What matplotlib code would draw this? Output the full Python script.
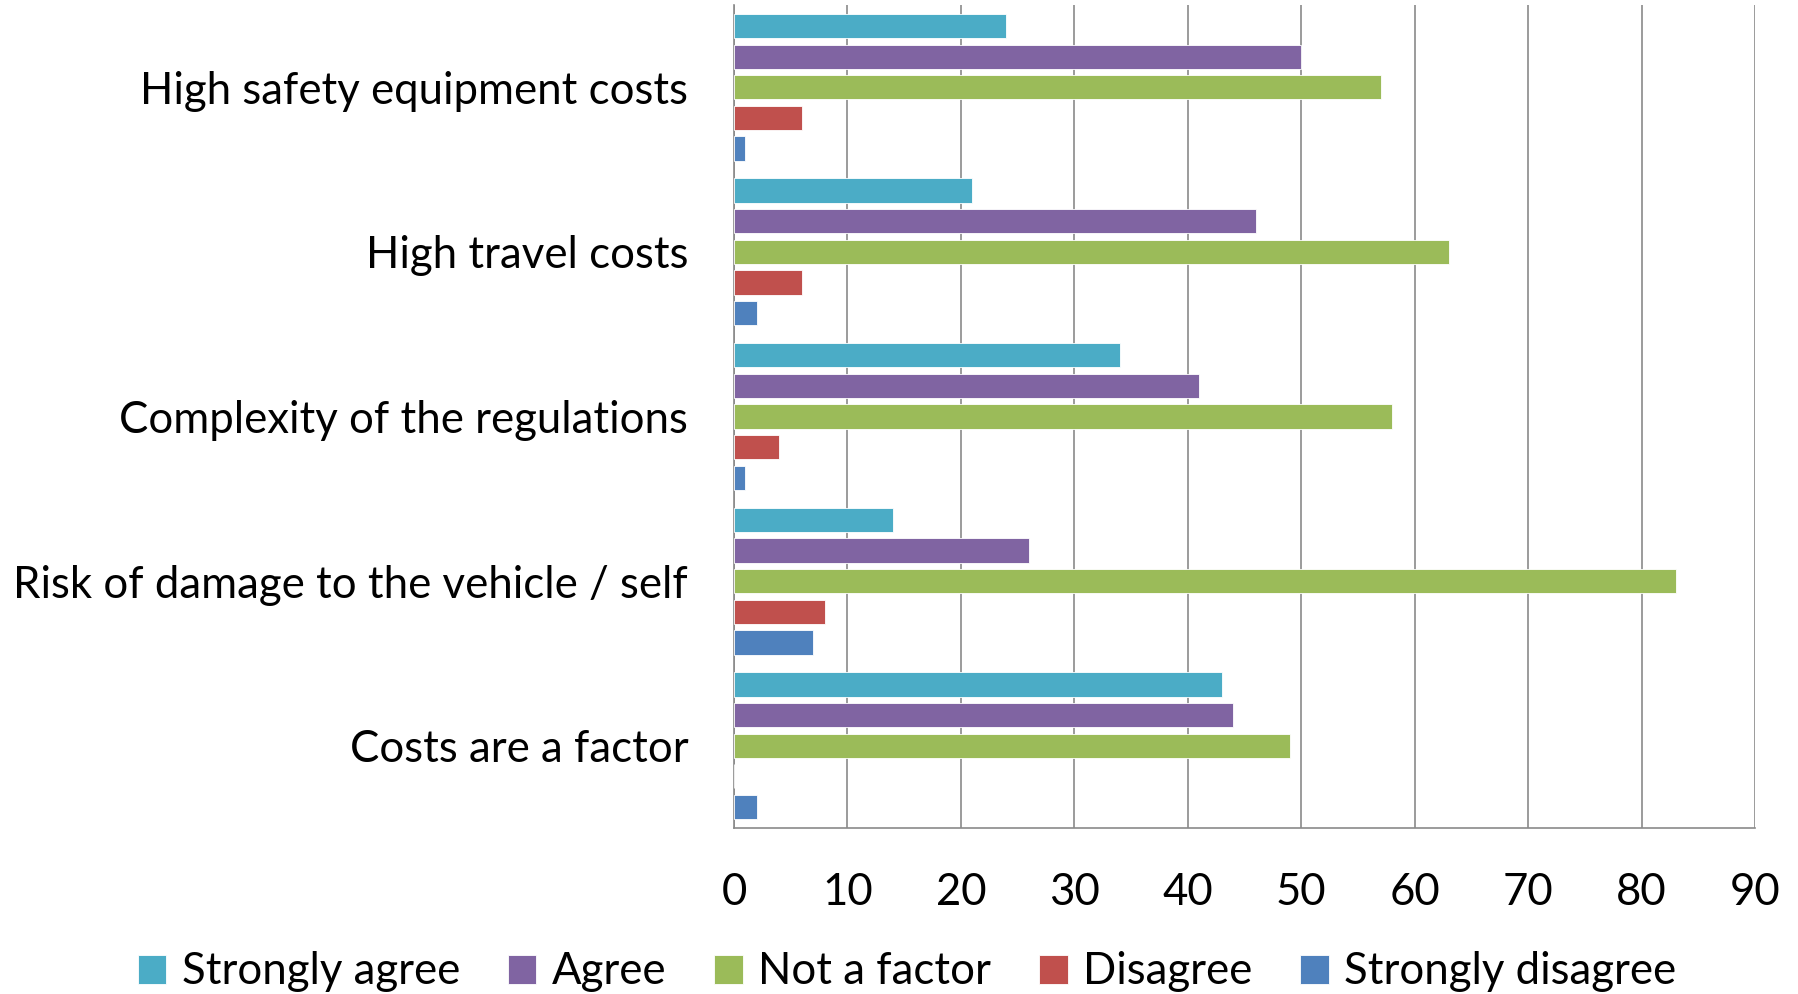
import numpy as np
import matplotlib
matplotlib.use("Agg")
import matplotlib.pyplot as plt

# --- data ---
categories = [
    "High safety equipment costs",
    "High travel costs",
    "Complexity of the regulations",
    "Risk of damage to the vehicle / self",
    "Costs are a factor",
]
series_names = ["Strongly agree", "Agree", "Not a factor", "Disagree", "Strongly disagree"]
strongly_agree = [24, 21, 34, 14, 43]
agree = [50, 46, 41, 26, 44]
not_a_factor = [57, 63, 58, 83, 49]
disagree = [6, 6, 4, 8, 0]
strongly_disagree = [1, 2, 1, 7, 2]
colors = ["#4BACC6", "#8064A2", "#9BBB59", "#C0504D", "#4F81BD"]
x_ticks = list(range(0, 91, 10))

plt.rcParams["font.family"] = ["Lato", "DejaVu Sans"]
FS = 31.5

fig = plt.figure(figsize=(17.99, 9.94), dpi=100)
ax = fig.add_axes([734 / 1799, 166 / 994, 1021 / 1799, 823 / 994])

series = [strongly_agree, agree, not_a_factor, disagree, strongly_disagree]
n = len(categories)
base = np.arange(n)[::-1]  # top category first
pitch = 0.186
height = 0.148
for i, (vals, name, c) in enumerate(zip(series, series_names, colors)):
    y = base + (2 - i) * pitch
    ax.barh(y, vals, height=height, color=c, edgecolor="white", linewidth=0.6,
            label=name, zorder=3)

ax.set_xlim(0, 90)
ax.set_ylim(-0.5, n - 0.5)
ax.set_xticks(x_ticks)
ax.set_yticks(base)
ax.set_yticklabels(categories)
ax.tick_params(axis="both", length=0, labelsize=FS)
ax.tick_params(axis="x", pad=32)
ax.tick_params(axis="y", pad=33)
ax.grid(axis="x", color="#8a8a8a", linewidth=1.2, zorder=0)
for s in ["top", "right"]:
    ax.spines[s].set_visible(False)
ax.spines["left"].set_color("#8a8a8a")
ax.spines["left"].set_linewidth(1.2)
ax.spines["bottom"].set_color("#8a8a8a")
ax.spines["bottom"].set_linewidth(1.2)

ax.legend(loc="center", bbox_to_anchor=(907 / 1799, 22 / 994), bbox_transform=fig.transFigure,
          ncol=5, frameon=False, fontsize=FS, handlelength=0.65, handleheight=0.65,
          handletextpad=0.35, columnspacing=1.1)

fig.savefig("out.png", dpi=100)
